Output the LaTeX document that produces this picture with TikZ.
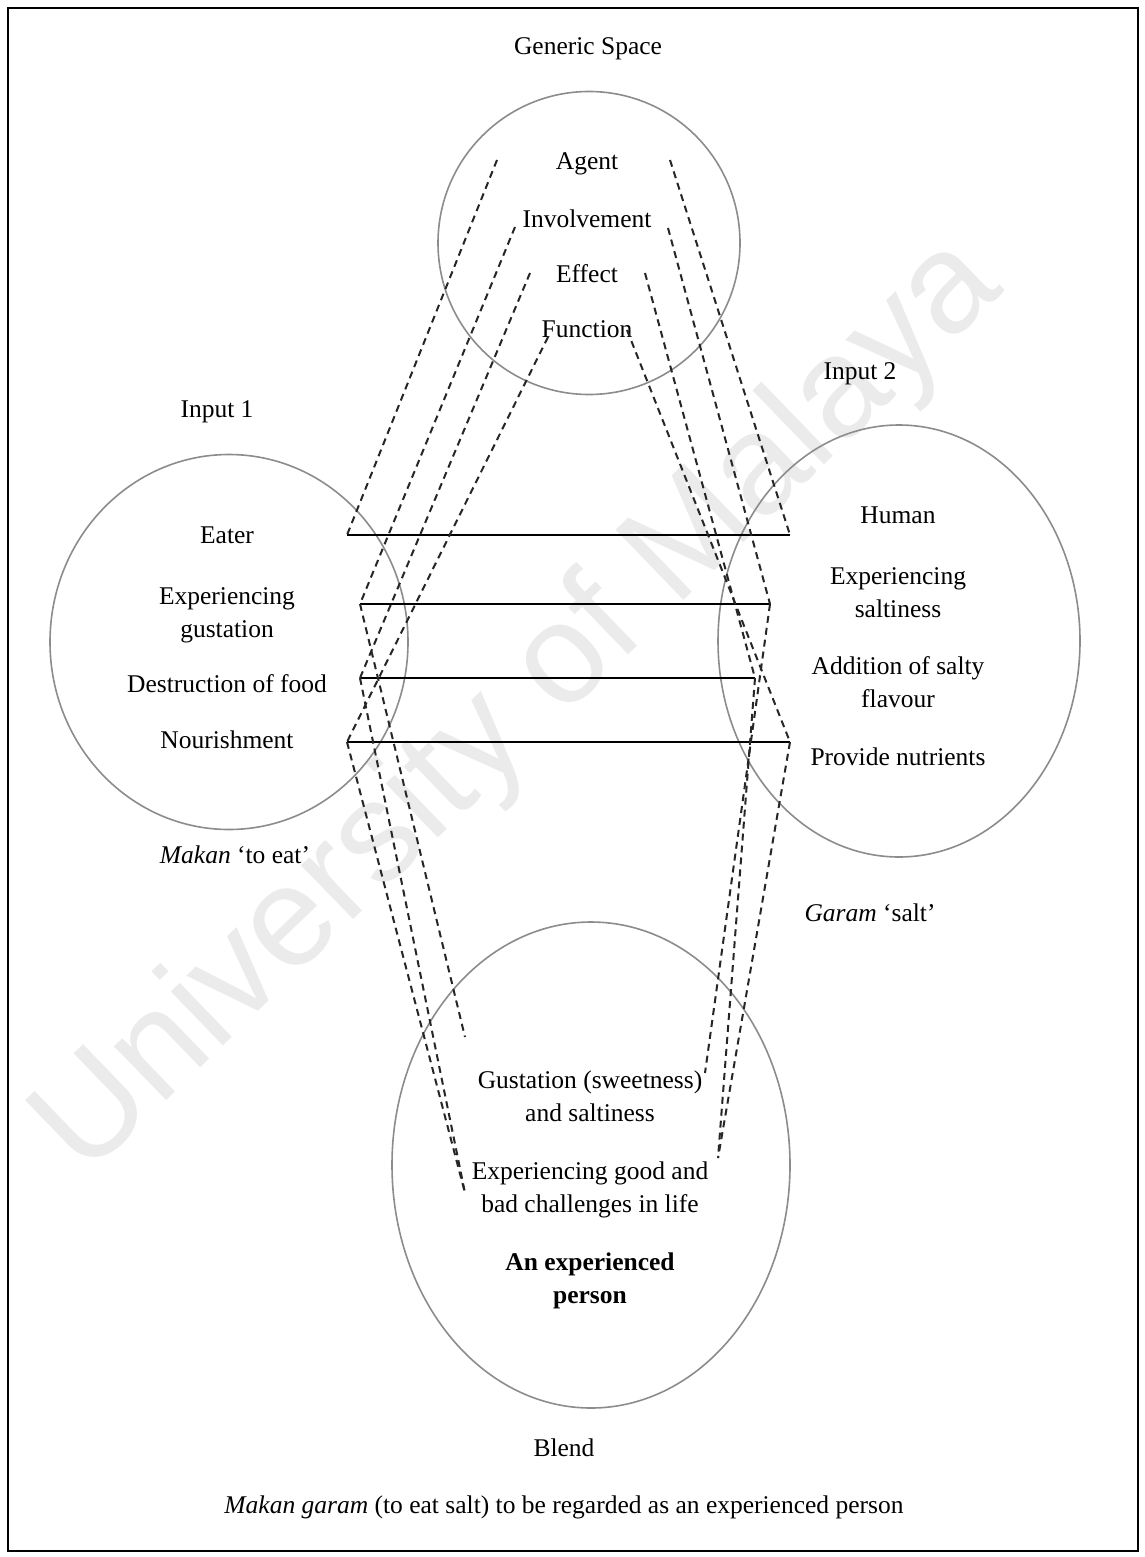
\documentclass[tikz,border=0pt]{standalone}
\usepackage{fontspec}
\setmainfont{Liberation Serif}
\newfontfamily\wmfont{Liberation Sans}
\usetikzlibrary{shapes.geometric}
\begin{document}
\begin{tikzpicture}[x=1pt,y=-1pt,
  lbl/.style={font=\fontsize{25.5}{33}\selectfont, align=center, inner sep=0pt, anchor=base},
  space/.style={draw=black!45, line width=1.6pt, ellipse, inner sep=0pt},
  link/.style={draw=black!85, line width=2pt, dash pattern=on 7pt off 5pt},
  match/.style={draw=black, line width=2.2pt},
  frame/.style={draw=black, line width=2pt}]
\useasboundingbox (0,0) rectangle (1144,1557);
\fill[white] (0,0) rectangle (1144,1557);

% watermark
\node[rotate=44, text=black!8, font=\wmfont\fontsize{142}{142}\selectfont, inner sep=0pt]
  (wm) at (520,708) {University of Malaya};

% outer frame
\draw[frame] (8,8) rectangle (1138,1551);

% the four mental spaces
\node[space, minimum width=302pt, minimum height=303pt] (generic) at (589,243) {};
\node[space, minimum width=358pt, minimum height=375pt] (input1) at (229,642) {};
\node[space, minimum width=362pt, minimum height=432pt] (input2) at (899,641) {};
\node[space, minimum width=398pt, minimum height=486pt] (blend) at (591,1165) {};

% space titles
\node[lbl] (tgeneric) at (588,55) {Generic Space};
\node[lbl] (tin1) at (217,417) {Input 1};
\node[lbl] (tin2) at (860,379) {Input 2};
\node[lbl] (tmakan) at (235,863) {\textit{Makan} `to eat'};
\node[lbl] (tgaram) at (870,921) {\textit{Garam} `salt'};
\node[lbl] (tblend) at (564,1456) {Blend};
\node[lbl] (tcaption) at (564,1513) {\textit{Makan garam} (to eat salt) to be regarded as an experienced person};

% generic space elements
\node[lbl] (agent) at (587,170) {Agent};
\node[lbl] (involve) at (587,227) {Involvement};
\node[lbl] (effect) at (587,282) {Effect};
\node[lbl] (function) at (587,337) {Function};

% input 1 elements (two-line labels sit on the baseline of their last line)
\node[lbl] (eater) at (227,543) {Eater};
\node[lbl] (gust) at (227,637) {Experiencing\\gustation};
\node[lbl] (destr) at (227,692) {Destruction of food};
\node[lbl] (nour) at (227,748) {Nourishment};

% input 2 elements
\node[lbl] (human) at (898,523) {Human};
\node[lbl] (salt) at (898,617) {Experiencing\\saltiness};
\node[lbl] (addit) at (898,707) {Addition of salty\\flavour};
\node[lbl] (nutr) at (898,765) {Provide nutrients};

% blend elements
\node[lbl] (bgust) at (590,1121) {Gustation (sweetness)\\and saltiness};
\node[lbl] (bexp) at (590,1212) {Experiencing good and\\bad challenges in life};
\node[lbl, font=\fontsize{25.5}{33}\selectfont\bfseries] (bperson) at (590,1303) {An experienced\\person};

% connector end points
\coordinate (gA) at (497,160);
\coordinate (gI) at (515,227);
\coordinate (gE) at (530,273);
\coordinate (gF) at (548,337);
\coordinate (hA) at (670,160);
\coordinate (hI) at (668,228);
\coordinate (hE) at (645,273);
\coordinate (hF) at (627,330);
\coordinate (e1) at (347,535);
\coordinate (e2) at (360,604);
\coordinate (e3) at (360,678);
\coordinate (e4) at (347,742);
\coordinate (h1) at (790,535);
\coordinate (h2) at (770,604);
\coordinate (h3) at (755,678);
\coordinate (h4) at (790,742);
\coordinate (bGl) at (465,1037);
\coordinate (bEl) at (465,1193);
\coordinate (bGr) at (705,1073);
\coordinate (bEr) at (718,1158);

% cross-space mapping between the inputs
\draw[match] (e1) -- (h1);
\draw[match] (e2) -- (h2);
\draw[match] (e3) -- (h3);
\draw[match] (e4) -- (h4);

% generic space to input 1
\draw[link] (gA) -- (e1);
\draw[link] (gI) -- (e2);
\draw[link] (gE) -- (e3);
\draw[link] (gF) -- (e4);
% generic space to input 2
\draw[link] (hA) -- (h1);
\draw[link] (hI) -- (h2);
\draw[link] (hE) -- (h3);
\draw[link] (hF) -- (h4);
% input 1 to blend
\draw[link] (e2) -- (bGl);
\draw[link] (e3) -- (bEl);
\draw[link] (e4) -- (bEl);
% input 2 to blend
\draw[link] (h2) -- (bGr);
\draw[link] (h3) -- (bEr);
\draw[link] (h4) -- (bEr);
\end{tikzpicture}
\end{document}
